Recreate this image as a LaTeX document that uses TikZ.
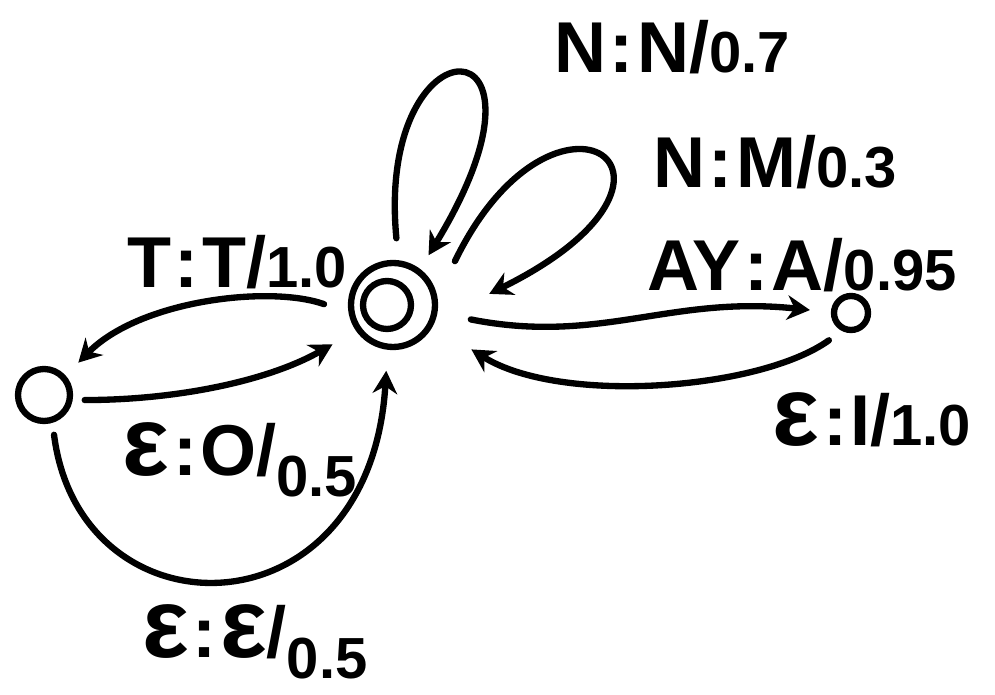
\documentclass[tikz,border=0pt]{standalone}
\usepackage{fontspec}
\setmainfont{Liberation Sans}
\usetikzlibrary{arrows.meta}
\newcommand{\wt}[1]{{\fontsize{33}{34}\selectfont #1}}
\newcommand{\wtlow}[1]{\raisebox{-12pt}{\wt{#1}}}
\newcommand{\eps}{{\fontsize{56}{40}\selectfont ε}}
\newcommand{\cl}{\kern2pt:\kern2pt}

\begin{document}
\begin{tikzpicture}[x=0.02cm,y=-0.02cm,line width=3.6pt,line cap=round,
  state/.style={draw,circle,inner sep=0pt},
  lbl/.style={font=\bfseries\fontsize{41}{44}\selectfont,inner sep=0pt},
  >={Stealth[length=13pt,width=14pt]}]
\useasboundingbox (0,0) rectangle (995,695);
% states
\node[state,minimum size=1.68cm] (mid) at (393,305) {};
\node[state,minimum size=0.96cm] (midin) at (387,305) {};
\node[state,minimum size=1.04cm] (lft) at (44,395) {};
\node[state,minimum size=0.68cm] (rgt) at (851,313) {};
% labels
\node[lbl] (lNN) at (672,47) {N\cl N/\wt{0.7}};
\node[lbl] (lNM) at (775,162) {N\cl M/\wt{0.3}};
\node[lbl] (lAY) at (802,265) {AY\cl A/\wt{0.95}};
\node[lbl] (lTT) at (237,262) {T\cl T/\wt{1.0}};
\node[lbl] (lEO) at (240,460) {\eps\cl O/\wtlow{0.5}};
\node[lbl] (lEI) at (872,420) {\eps\cl I/\wt{1.0}};
\node[lbl] (lEE) at (255,642) {\eps\cl\eps/\wtlow{0.5}};
% transitions
\draw[->,shorten <=0.52cm,shorten >=0.36cm] (mid.190) .. controls (270,285) and (140,300) .. (lft.42);
\draw[->,shorten <=0.24cm,shorten >=0.54cm] (lft.-10) .. controls (180,400) and (270,380) .. (mid.215);
\draw[->,shorten <=0.24cm,shorten >=0.42cm] (lft.-73) .. controls (80,640) and (370,640) .. (mid.-97);
\draw[->,shorten <=0.68cm,shorten >=0.42cm] (mid.-10) .. controls (600,345) and (670,295) .. (rgt.178);
\draw[->,shorten <=0.32cm,shorten >=0.9cm] (rgt.243) .. controls (760,390) and (560,405) .. (mid.-27);
% self loops
\draw[->,shorten <=0.44cm,shorten >=0.32cm] (mid.83) .. controls (375,15) and (575,15) .. (mid.53);
\draw[->,shorten <=0.8cm,shorten >=1.2cm] (mid.10) .. controls (555,55) and (730,175) .. (mid.-20);
\end{tikzpicture}
\end{document}
